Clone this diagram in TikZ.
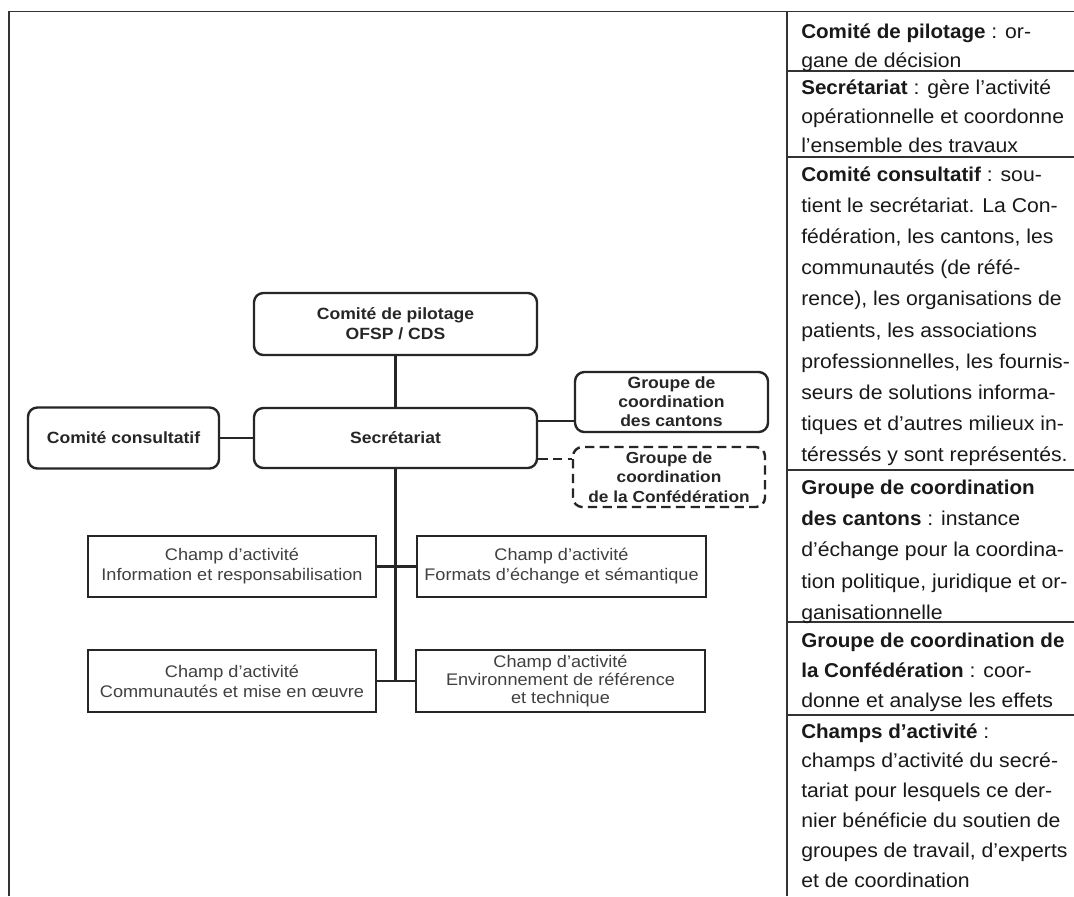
\documentclass[tikz,border=0pt]{standalone}
\usepackage{fontspec}
\setmainfont{Liberation Sans}[FakeStretch=1.06, BoldFeatures={FakeStretch=1.03}]
\newfontfamily\dfont{Liberation Sans}[FakeStretch=1.08]
\begin{document}
\begin{tikzpicture}[x=0.75pt,y=-0.75pt,
  rbox/.style={draw=black!85, line width=1.8pt, rounded corners=7pt, inner sep=0pt, align=center,
    font=\dfont\fontsize{12.2}{15}\selectfont\bfseries, text=black!85},
  sbox/.style={draw=black!85, line width=1.6pt, inner sep=0pt, align=center,
    font=\dfont\fontsize{12.6}{15}\selectfont, text=black!75},
  conn/.style={line width=1.8pt, draw=black!85},
  tline/.style={line width=1.3pt, draw=black!80},
  cell/.style={anchor=base west, inner sep=0pt, text=black!90}]
\useasboundingbox (0,0) rectangle (1074,896);
\fill[white] (0,0) rectangle (1074,896);

% table frame
\draw[tline] (9,896) -- (9,11.5) -- (1074,11.5);
\draw[tline] (787,11.5) -- (787,896);
\foreach \yy in {71,157,470,622,715} {\draw[tline] (787,\yy) -- (1074,\yy);}

% right column text
\node[cell] (r1) at (801,38) {\parbox[t]{215pt}{\fontsize{15}{22}\selectfont
  \textbf{Comité de pilotage} : or-\\gane de décision}};
\node[cell] (r2) at (801,94) {\parbox[t]{215pt}{\fontsize{15}{22}\selectfont
  \textbf{Secrétariat} : gère l’activité\\opérationnelle et coordonne\\l’ensemble des travaux}};
\node[cell] (r3) at (801,181) {\parbox[t]{215pt}{\fontsize{15}{23.4}\selectfont
  \textbf{Comité consultatif} : sou-\\tient le secrétariat. La Con-\\fédération, les cantons, les\\communautés (de réfé-\\rence), les organisations de\\patients, les associations\\professionnelles, les fournis-\\seurs de solutions informa-\\tiques et d’autres milieux in-\\téressés y sont représentés.}};
\node[cell] (r4) at (801,494) {\parbox[t]{215pt}{\fontsize{15}{23.5}\selectfont
  \textbf{Groupe de coordination}\\\textbf{des cantons} : instance\\d’échange pour la coordina-\\tion politique, juridique et or-\\ganisationnelle}};
\node[cell] (r5) at (801,647) {\parbox[t]{215pt}{\fontsize{15}{22.6}\selectfont
  \textbf{Groupe de coordination de}\\\textbf{la Confédération} : coor-\\donne et analyse les effets}};
\node[cell] (r6) at (801,738) {\parbox[t]{215pt}{\fontsize{15}{22.4}\selectfont
  \textbf{Champs d’activité} :\\champs d’activité du secré-\\tariat pour lesquels ce der-\\nier bénéficie du soutien de\\groupes de travail, d’experts\\et de coordination}};

% diagram boxes
\node[rbox, minimum width=283*0.75pt, minimum height=62*0.75pt] (pil) at (395.5,324) {Comité de pilotage\\OFSP / CDS};
\node[rbox, minimum width=283*0.75pt, minimum height=60*0.75pt] (sec) at (395.5,438) {Secrétariat};
\node[rbox, minimum width=191*0.75pt, minimum height=61*0.75pt] (con) at (123.5,438) {Comité consultatif};
\node[rbox, minimum width=193*0.75pt, minimum height=60*0.75pt, font=\dfont\fontsize{12.2}{14.3}\selectfont\bfseries] (can) at (671.5,402) {Groupe de\\coordination\\des cantons};
\node[rbox, dash pattern=on 7pt off 4pt, minimum width=192*0.75pt, minimum height=60*0.75pt, font=\dfont\fontsize{12}{14.5}\selectfont\bfseries] (conf) at (669,477) {Groupe de\\coordination\\de la Confédération};

\node[sbox, minimum width=288*0.75pt, minimum height=61*0.75pt] (fa) at (232,566.5) {Champ d’activité\\Information et responsabilisation};
\node[sbox, minimum width=289*0.75pt, minimum height=61*0.75pt] (fb) at (561.5,566.5) {Champ d’activité\\Formats d’échange et sémantique};
\node[sbox, minimum width=288*0.75pt, minimum height=62*0.75pt] (fc) at (232,681) {Champ d’activité\\Communautés et mise en œuvre};
\node[sbox, minimum width=289*0.75pt, minimum height=62*0.75pt, font=\dfont\fontsize{12.6}{13.2}\selectfont] (fd) at (560.5,681) {Champ d’activité\\Environnement de référence\\et technique};

% connectors
\draw[conn] (pil) -- (sec);
\draw[conn] (con) -- (sec);
\path (sec.east) ++(0,-17) coordinate (s1);
\draw[conn] (s1) -- (s1 -| can.west);
\path (sec.east) ++(0,21) coordinate (s2);
\draw[conn, dash pattern=on 7pt off 4pt] (s2) -- (s2 -| conf.west);
\draw[conn] (sec.south) -- (sec.south |- fc.east);
\draw[conn] (fa) -- (fb);
\draw[conn] (fc) -- (fd);
\end{tikzpicture}
\end{document}
